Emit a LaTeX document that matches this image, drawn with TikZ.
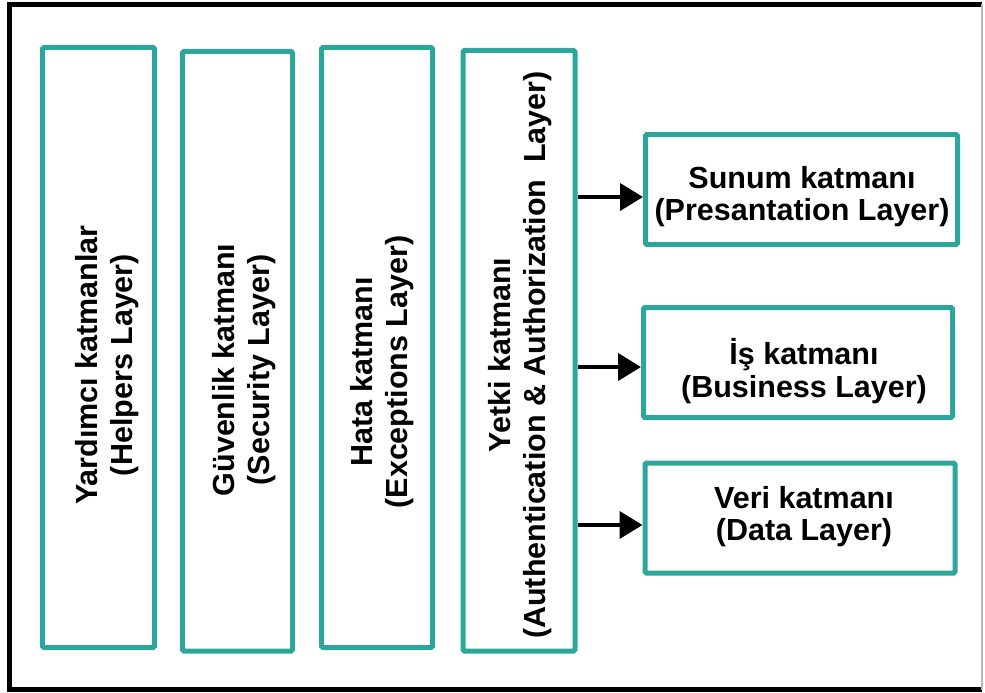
\documentclass[tikz,border=0pt]{standalone}
\usepackage{fontspec}
\setmainfont{Liberation Sans}
\usetikzlibrary{arrows.meta}
\definecolor{layerteal}{RGB}{44,166,155}

\begin{document}
\begin{tikzpicture}[x=1pt,y=-1pt,
  layerbox/.style={draw=layerteal, line width=5pt, rounded corners=1.5pt, inner sep=0pt},
  vlabel/.style={rotate=90, align=center, inner sep=0pt,
    font=\bfseries\fontsize{30.5}{35}\selectfont},
  hlabel/.style={align=center, inner sep=0pt,
    font=\bfseries\fontsize{30.5}{32.5}\selectfont},
  flow/.style={line width=4pt, -{Triangle[length=23pt,width=27pt]}}]

\useasboundingbox (0,0) rectangle (985,693);

% outer frame
\draw[line width=5pt] (982,4.5) -- (9.5,4.5) -- (9.5,689.5) -- (982,689.5);
\draw[gray!55, line width=1.2pt] (982,4.5) -- (982,689.5);

% cross-cutting vertical layers
\node[layerbox, minimum width=112pt, minimum height=600pt]   (helpers)  at (98.5,347.5) {};
\node[layerbox, minimum width=110pt, minimum height=599.5pt] (security) at (237.5,351.25) {};
\node[layerbox, minimum width=111pt, minimum height=600pt]   (errors)   at (377,347.5) {};
\node[layerbox, minimum width=112pt, minimum height=600.5pt] (yetki)    at (519,350.75) {};

\node[vlabel] (helperstxt)  at (107,365) {Yardımcı katmanlar\\(Helpers Layer)};
\node[vlabel] (securitytxt) at (244,370) {Güvenlik katmanı\\(Security Layer)};
\node[vlabel] (errorstxt)   at (382,372) {Hata katmanı\\(Exceptions Layer)};
\node[vlabel] (yetkitxt)    at (520,355) {Yetki katmanı\\(Authentication \& Authorization\ \ Layer)};

% application layers
\node[layerbox, minimum width=312pt, minimum height=110pt] (sunum) at (801.5,189.5) {};
\node[layerbox, minimum width=309pt, minimum height=110pt] (is)    at (798,362.5) {};
\node[layerbox, minimum width=310pt, minimum height=110pt] (veri)  at (800,518) {};

\node[hlabel] (sunumtxt) at (802,196.5) {Sunum katmanı\\(Presantation Layer)};
\node[hlabel] (istxt)    at (804,371)   {İş katmanı\\(Business Layer)};
\node[hlabel] (veritxt)  at (804,516.5) {Veri katmanı\\(Data Layer)};

% connectors
\coordinate (a1) at ([yshift=-7.5pt]sunum.west);
\coordinate (a2) at ([yshift=-4.5pt]is.west);
\coordinate (a3) at ([yshift=-7pt]veri.west);
\draw[flow] (a1 -| yetki.east) -- (a1);
\draw[flow] (a2 -| yetki.east) -- (a2);
\draw[flow] (a3 -| yetki.east) -- (a3);
\end{tikzpicture}
\end{document}
